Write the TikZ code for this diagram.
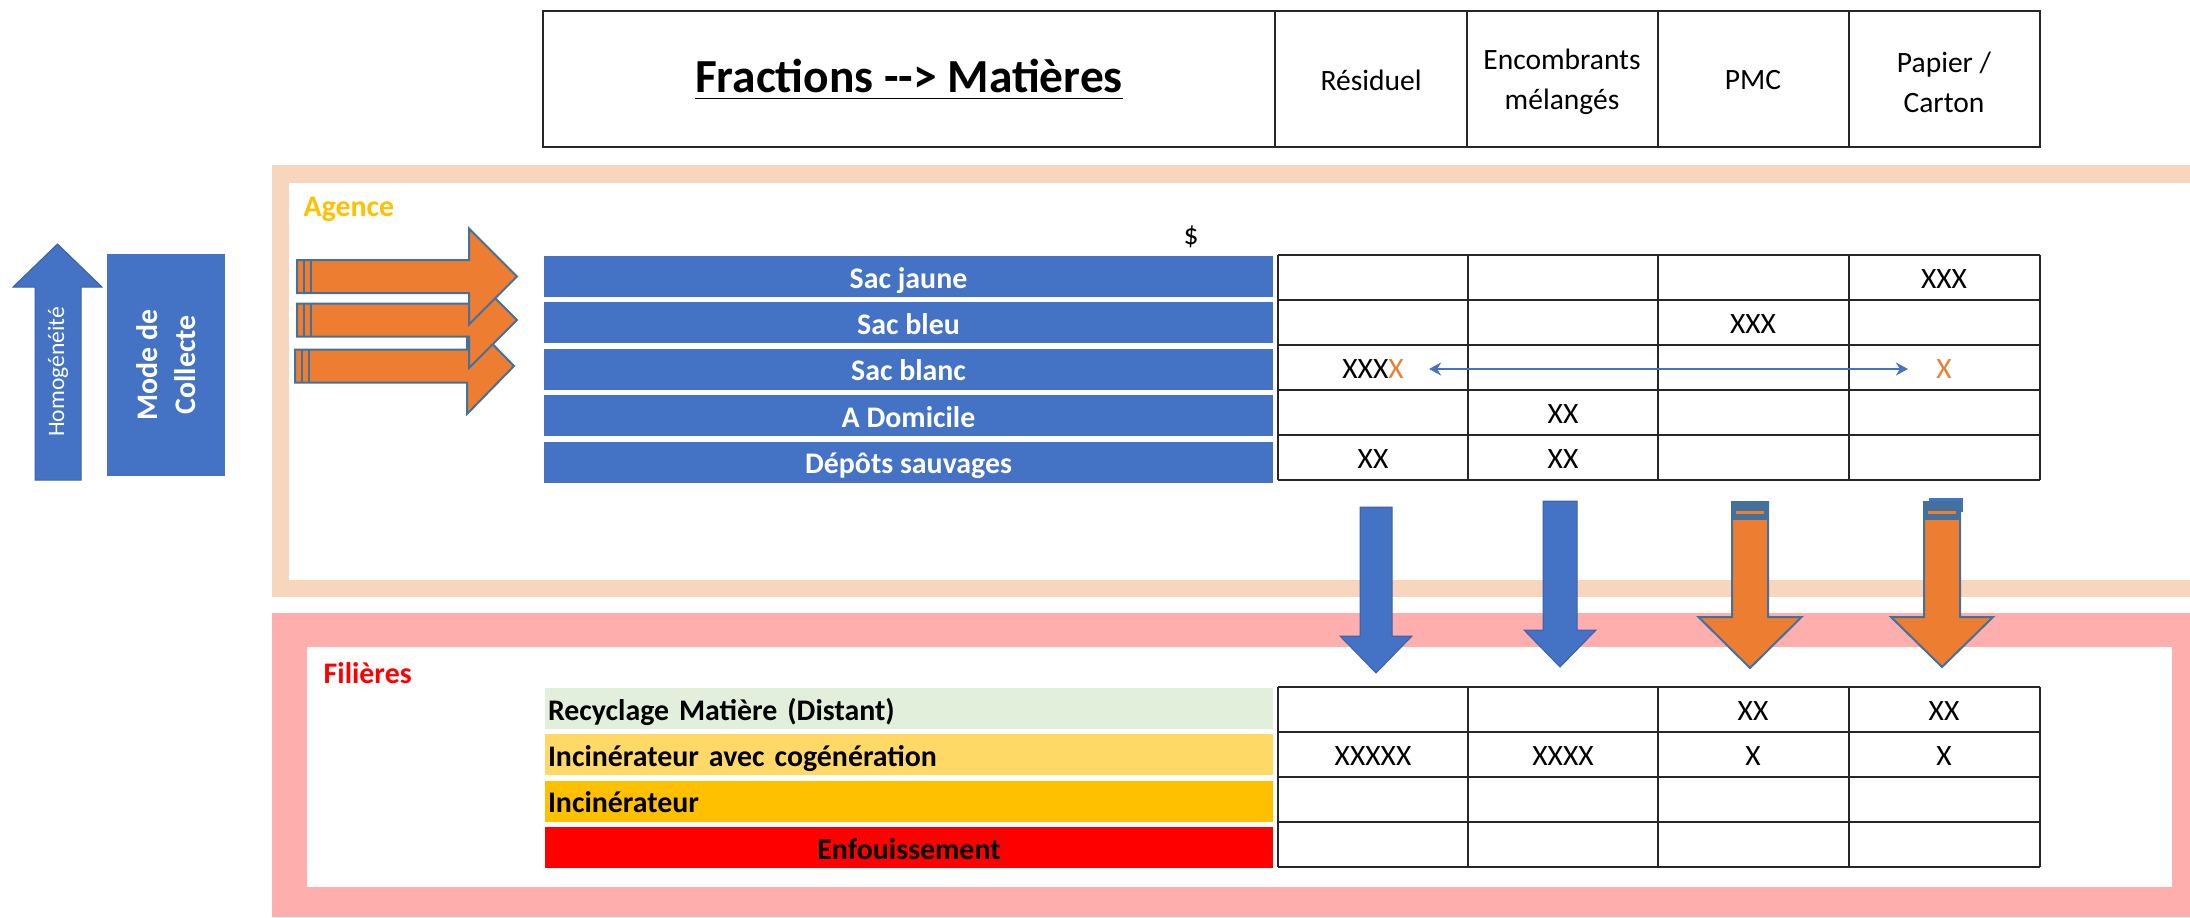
\documentclass[tikz,border=0pt]{standalone}
\usepackage{fontspec}
\setmainfont{Carlito}
\usetikzlibrary{arrows.meta, positioning}
\definecolor{bleu}{HTML}{4472C4}
\definecolor{bleu_bord}{HTML}{41719C}
\definecolor{orange_fl}{HTML}{ED7D31}
\definecolor{agence_bord}{HTML}{F8D6BD}
\definecolor{filiere_bord}{HTML}{FFAEAE}
\definecolor{vert_pale}{HTML}{E2EFDA}
\definecolor{jaune_pale}{HTML}{FFD966}
\definecolor{jaune_or}{HTML}{FFC000}
\tikzstyle{txt}=[font=\fontsize{8.4}{11.4}\selectfont]
\tikzstyle{txt_b}=[font=\bfseries\fontsize{8.5}{10.4}\selectfont]
\tikzstyle{row_blue}=[txt_b, fill=bleu, text=white, minimum width=72.9mm, minimum height=4.1mm, inner sep=0pt, text height=2.3mm, text depth=0pt]
\tikzstyle{row_fil}=[txt_b, minimum width=72.8mm, minimum height=4.1mm, text width=72.2mm, align=left, inner xsep=0.3mm, inner ysep=0pt, text height=2.3mm, text depth=0pt]
\tikzstyle{table_line}=[line width=0.25mm, black!85]
\tikzstyle{arrow_orange}=[fill=orange_fl, draw=bleu_bord, line width=0.2mm]
\tikzstyle{arrow_blue}=[fill=bleu, draw=bleu!85!black, line width=0.1mm]
\tikzstyle{link}=[{Stealth[length=1.2mm,width=1.3mm]}-{Stealth[length=1.2mm,width=1.3mm]}, bleu, line width=0.2mm]

% fleche vers la droite : gauche, milieu, base pointe, bout
\newcommand{\blockright}[4]{%
  \filldraw[arrow_orange] (#1,#2-16.5) -- (#3,#2-16.5) -- (#3,#2-48) -- (#4,#2)
    -- (#3,#2+48) -- (#3,#2+16.5) -- (#1,#2+16.5) -- cycle;
  \draw[bleu_bord, line width=0.2mm] (#1+7,#2-16.5) -- (#1+7,#2+16.5)
    (#1+14,#2-16.5) -- (#1+14,#2+16.5);}
% fleche vers le bas : style, centre, haut, demi-largeur, base pointe, demi-pointe, bout
\newcommand{\blockdown}[7]{%
  \filldraw[#1] (#2-#4,#3) -- (#2+#4,#3) -- (#2+#4,#5) -- (#2+#6,#5) -- (#2,#7)
    -- (#2-#6,#5) -- (#2-#4,#5) -- cycle;}
\newcommand{\stripes}[3]{%
  \fill[bleu_bord] (#1-#3,#2) rectangle (#1+#3,#2+18);
  \fill[orange_fl] (#1-#3+4,#2+9) rectangle (#1+#3-4,#2+12);}

\begin{document}
\begin{tikzpicture}[x=0.1mm, y=-0.1mm]
\useasboundingbox (0,0) rectangle (2190,917);

% cadres
\fill[agence_bord] (272,165) rectangle (2190,597);
\fill[white] (289,183) rectangle (2190,580);
\fill[filiere_bord] (272,613) rectangle (2190,917);
\fill[white] (307,647) rectangle (2172,887);
\node[txt_b, text=jaune_or, anchor=west, inner sep=0pt] (agence) at (303,209) {Agence};
\node[txt_b, text=red, anchor=west, inner sep=0pt] (filieres) at (323,673) {Filières};

% en-tete
\draw[table_line] (543,11) rectangle (2040,147);
\foreach \x in {1275,1467,1658,1849} \draw[table_line] (\x,11) -- (\x,147);
\node[font=\bfseries\fontsize{13.5}{16}\selectfont] (titre) at (909,80) {\underline{Fractions -\kern0pt-\kern0pt> Matières}};
\node[txt] (h_res) at (1371,80) {Résiduel};
\node[txt, align=center] (h_enc) at (1562,82) {Encombrants\\mélangés};
\node[txt] (h_pmc) at (1753,80) {PMC};
\node[txt, align=center] (h_pap) at (1944,82) {Papier /\\Carton};

% homogeneite et mode de collecte
\filldraw[arrow_blue] (35,480) -- (35,287) -- (13,287) -- (57.5,244) -- (102,287) -- (81,287) -- (81,480) -- cycle;
\node[rotate=90, text=white, font=\fontsize{6.7}{8}\selectfont] (homog) at (58,372) {Homogénéité};
\node[fill=bleu, text=white, rotate=90, align=center, minimum width=22.2mm, minimum height=11.8mm, font=\bfseries\fontsize{8.5}{11}\selectfont] (mode) at (166,365) {Mode de\\Collecte};

% modes de collecte
\node[row_blue] (sac_jaune) at (908.5,276.5) {Sac jaune};
\node[row_blue, below=0.4mm of sac_jaune] (sac_bleu) {Sac bleu};
\node[row_blue, below=0.4mm of sac_bleu] (sac_blanc) {Sac blanc};
\node[row_blue, below=0.4mm of sac_blanc] (domicile) {A Domicile};
\node[row_blue, below=0.4mm of domicile] (depots) {Dépôts sauvages};
\node[txt] (dollar) at (1191,237) {\$};

\foreach \i in {0,...,5} \draw[table_line] (1278,255+45*\i) -- (2040,255+45*\i);
\foreach \x in {1278,1468,1658,1849,2040} \draw[table_line] (\x,255) -- (\x,480);
\node[txt] (c1_4) at (1944,279) {XXX};
\node[txt] (c2_3) at (1753,324) {XXX};
\node[txt] (c3_1) at (1373,369) {XXX\textcolor{orange_fl}{X}};
\node[txt, text=orange_fl] (c3_4) at (1944,369) {X};
\node[txt] (c4_2) at (1563,414) {XX};
\node[txt] (c5_1) at (1373,459) {XX};
\node[txt] (c5_2) at (1563,459) {XX};
\draw[link, shorten <=1.3mm, shorten >=1.6mm] (c3_1) -- (c3_4);

% filieres
\node[row_fil, fill=vert_pale] (recyclage) at (909,708.5) {Recyclage Matière (Distant)};
\node[row_fil, fill=jaune_pale, below=0.4mm of recyclage] (incin_cog) {Incinérateur avec cogénération};
\node[row_fil, fill=jaune_or, below=0.4mm of incin_cog] (incin) {Incinérateur};
\node[row_fil, fill=red, align=center, below=0.4mm of incin] (enfouis) {Enfouissement};

\foreach \i in {0,...,4} \draw[table_line] (1278,687+45*\i) -- (2040,687+45*\i);
\foreach \x in {1278,1468,1658,1849,2040} \draw[table_line] (\x,687) -- (\x,867);
\node[txt] (f1_3) at (1753,711) {XX};
\node[txt] (f1_4) at (1944,711) {XX};
\node[txt] (f2_1) at (1373,756) {XXXXX};
\node[txt] (f2_2) at (1563,756) {XXXX};
\node[txt] (f2_3) at (1753,756) {X};
\node[txt] (f2_4) at (1944,756) {X};

% fleches
\blockright{295}{366}{467}{514}
\blockright{297}{320}{469}{517}
\blockright{297}{276.5}{469}{517}
\blockdown{arrow_blue}{1376}{507}{16}{636}{36}{673}
\blockdown{arrow_blue}{1560}{501}{17}{630}{36}{667}
\blockdown{arrow_orange}{1750}{502}{18}{617}{51.5}{668}
\stripes{1750}{502}{18}
\fill[bleu] (1929,498) rectangle (1963,512);
\blockdown{arrow_orange}{1942}{502}{18}{617}{51}{667}
\stripes{1942}{502}{18}

\end{tikzpicture}
\end{document}
